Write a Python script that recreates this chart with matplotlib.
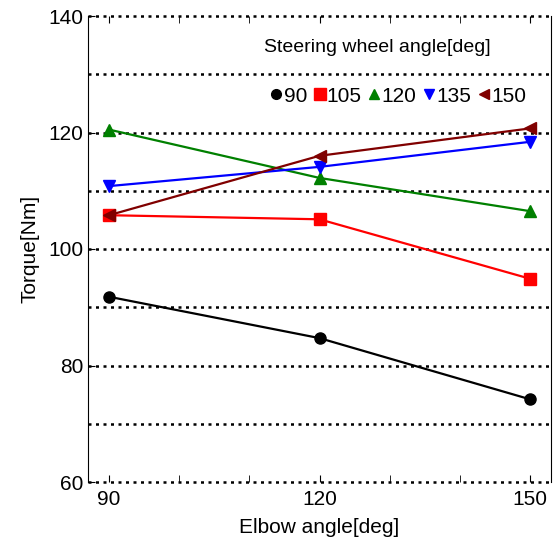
import matplotlib
matplotlib.use("Agg")
import matplotlib.pyplot as plt
from matplotlib.lines import Line2D

plt.rcParams['font.family'] = ['Liberation Sans', 'DejaVu Sans']

elbow = [90, 120, 150]
series_labels = ['90', '105', '120', '135', '150']
torque_90 = [91.8, 84.7, 74.2]
torque_105 = [105.8, 105.1, 94.9]
torque_120 = [120.5, 112.2, 106.5]
torque_135 = [110.8, 114.1, 118.4]
torque_150 = [105.8, 116.0, 120.7]
colors = ['black', '#ff0000', '#008000', '#0000ff', '#800000']
markers = ['o', 's', '^', 'v', '<']
msizes = [8, 9, 8, 8, 8]

fig = plt.figure(figsize=(5.58, 5.41), dpi=100)
ax = fig.add_axes([88/558, 1-482/541, (551-88)/558, (482-16)/541])

all_series = [torque_90, torque_105, torque_120, torque_135, torque_150]
for vals, c, m, ms, lab in zip(all_series, colors, markers, msizes, series_labels):
    ax.plot(elbow, vals, color=c, marker=m, markersize=ms, linewidth=1.6, label=lab)

ax.set_xlim(87, 153)
ax.set_ylim(60, 140)
ax.set_xticks([90, 120, 150])
ax.set_xticks([100, 110, 130, 140], minor=True)
ax.set_yticks([60, 80, 100, 120, 140])
ax.set_yticks([70, 90, 110, 130], minor=True)
for y in range(60, 141, 10):
    ax.axhline(y, color='black', linestyle=(0, (1.2, 1.8)), linewidth=1.8, zorder=0.5, clip_on=False)
ax.spines['top'].set_visible(False)
ax.spines['bottom'].set_visible(False)
ax.tick_params(axis='both', which='both', direction='in', labelsize=15, top=True, right=False, length=5)
ax.tick_params(axis='y', which='minor', length=0)
ax.tick_params(axis='x', which='major', pad=6)
ax.set_xlabel('Elbow angle[deg]', fontsize=15, labelpad=6)
ax.set_ylabel('Torque[Nm]', fontsize=15, labelpad=6)

fig.text(264/558, 1-47/541, 'Steering wheel angle[deg]', fontsize=14, va='center', ha='left')
handles = [Line2D([], [], color=c, marker=m, markersize=ms - 1, linestyle='none')
           for c, m, ms in zip(colors, markers, msizes)]
leg = ax.legend(handles, series_labels, loc='center', bbox_to_anchor=((398-88)/463, (482-96)/466),
                ncol=5, frameon=False, fontsize=15, handlelength=0.6, handletextpad=0.05,
                columnspacing=0.3, borderpad=0)

fig.savefig('out.png', dpi=100)
